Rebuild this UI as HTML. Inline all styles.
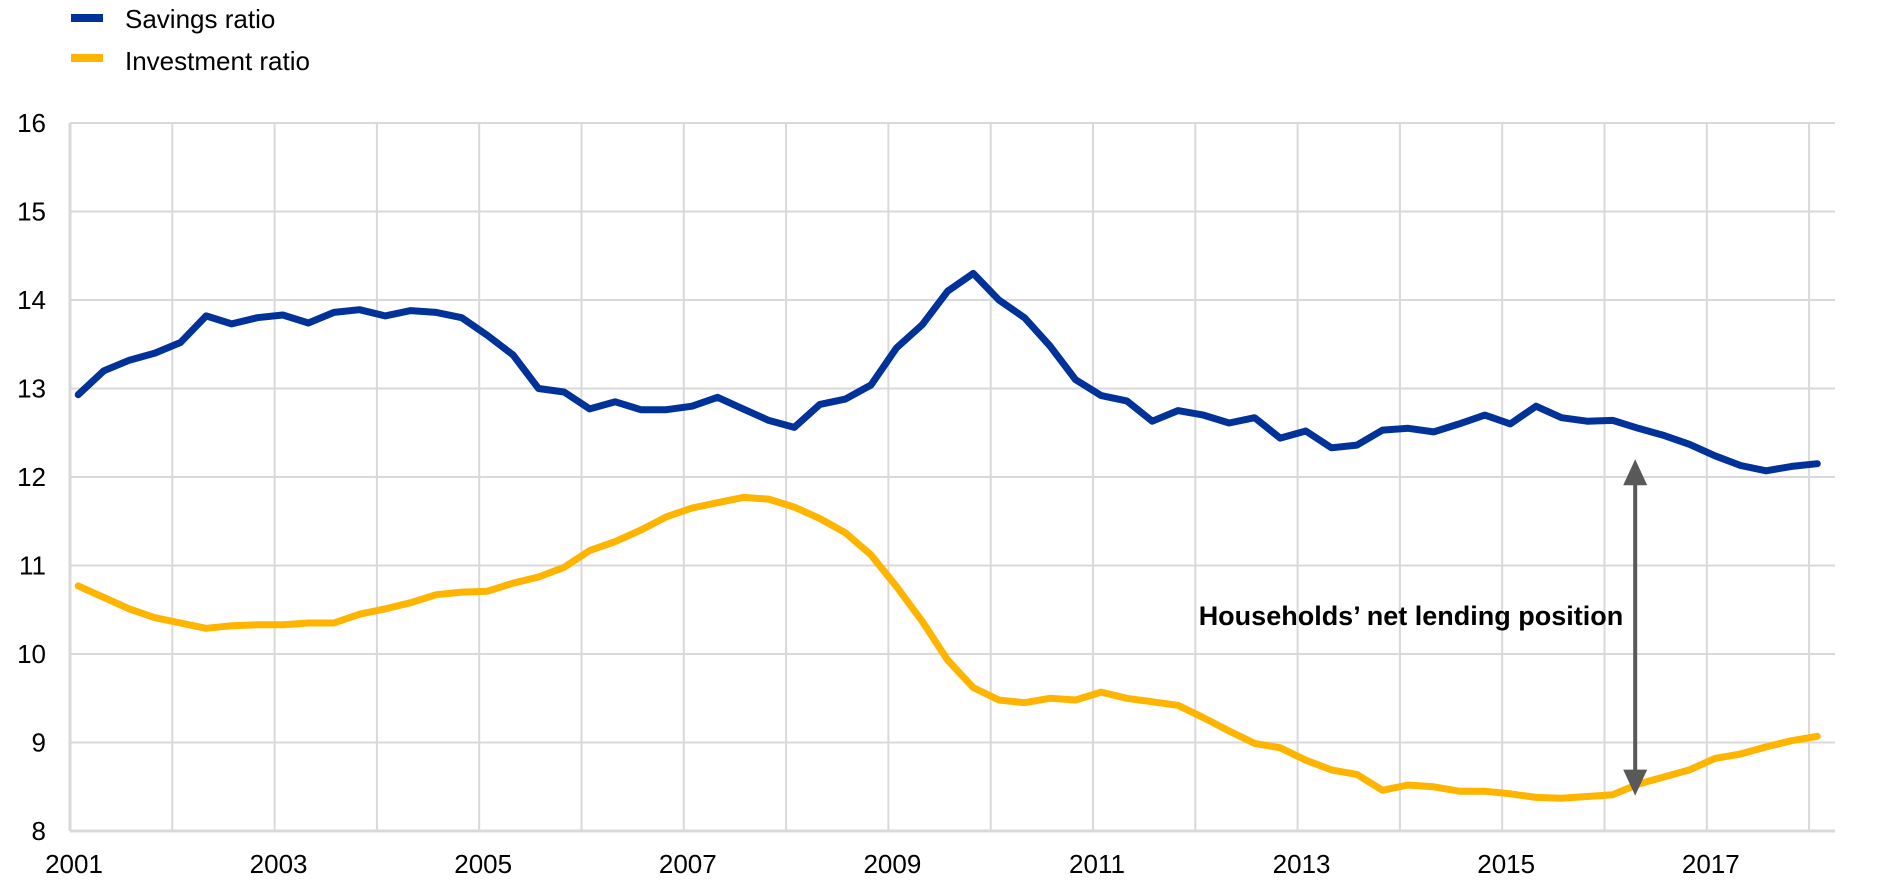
<!DOCTYPE html>
<html><head><meta charset="utf-8"><style>
html,body{margin:0;padding:0;background:#fff;}
svg{display:block;font-family:"Liberation Sans",Arial,sans-serif;}
</style></head><body>
<svg id="chart" width="1890" height="894" viewBox="0 0 1890 894">
<g id="legend">
  <g>
    <rect x="71" y="14" width="32" height="8" fill="#003299"/>
    <text x="125" y="28" font-size="26">Savings ratio</text>
  </g>
  <g>
    <rect x="71" y="54" width="32" height="8" fill="#FFB400"/>
    <text x="125" y="70" font-size="26">Investment ratio</text>
  </g>
</g>
<g id="grid"></g>
<g id="axes"></g>
<g id="series"></g>
<g id="annot"></g>
</svg>
<script>
const yTicks = [8,9,10,11,12,13,14,15,16];
const xYears = [2001,2002,2003,2004,2005,2006,2007,2008,2009,2010,2011,2012,2013,2014,2015,2016,2017,2018];
const xLabels = ["2001","2003","2005","2007","2009","2011","2013","2015","2017"];
const startYear = 2001;
const savings = [12.93,13.2,13.32,13.4,13.52,13.82,13.73,13.8,13.83,13.74,13.86,13.89,13.82,13.88,13.86,13.8,13.6,13.38,13.0,12.96,12.77,12.85,12.76,12.76,12.8,12.9,12.77,12.64,12.56,12.82,12.88,13.04,13.46,13.72,14.1,14.3,14.0,13.8,13.48,13.1,12.92,12.86,12.63,12.75,12.7,12.61,12.67,12.44,12.52,12.33,12.36,12.53,12.55,12.51,12.6,12.7,12.6,12.8,12.67,12.63,12.64,12.55,12.47,12.37,12.24,12.13,12.07,12.12,12.15];
const investment = [10.77,10.64,10.51,10.41,10.35,10.29,10.32,10.33,10.33,10.35,10.35,10.45,10.51,10.58,10.67,10.7,10.71,10.8,10.87,10.98,11.17,11.27,11.4,11.55,11.65,11.71,11.77,11.75,11.66,11.53,11.37,11.12,10.76,10.37,9.93,9.62,9.48,9.45,9.5,9.48,9.57,9.5,9.46,9.42,9.28,9.13,8.99,8.94,8.8,8.69,8.64,8.46,8.52,8.5,8.45,8.45,8.42,8.38,8.37,8.39,8.41,8.53,8.61,8.69,8.82,8.87,8.95,9.02,9.07];
const arrowFrom = 12.2, arrowTo = 8.4, arrowYear = 2016.3;

const NS="http://www.w3.org/2000/svg";
const X0=70, X1=1835, Y0=831, Y1=123, yrW=102.3;
const xs = t => X0 + (t - startYear) * yrW;
const ys = v => Y0 - (v - 8) / 8 * (Y0 - Y1);
function mk(tag, attrs, parent){const e=document.createElementNS(NS,tag);for(const k in attrs)e.setAttribute(k,attrs[k]);parent.appendChild(e);return e;}
const grid=document.getElementById('grid'), axes=document.getElementById('axes'), series=document.getElementById('series'), annot=document.getElementById('annot');
yTicks.forEach(v=>{
  if(v>8){const l=mk('line',{x1:X0,x2:X1,y1:ys(v),y2:ys(v),stroke:'#d9d9d9','stroke-width':2},grid);
  
  }
  const t=mk('text',{x:46,y:ys(v)+9,'font-size':26,'text-anchor':'end'},axes);
  t.textContent=String(v);
  
  
});
xYears.forEach(y=>{
  const l=mk('line',{x1:xs(y),x2:xs(y),y1:Y1,y2:Y0,stroke:'#d9d9d9','stroke-width':2},grid);
  
  
});
const ax=mk('line',{x1:X0,x2:X1,y1:Y0,y2:Y0,stroke:'#d9d9d9','stroke-width':3},axes);


const ayl=mk('line',{x1:X0,x2:X0,y1:Y1,y2:Y0,stroke:'#d9d9d9','stroke-width':3},axes);


xLabels.forEach(s=>{
  const t=mk('text',{x:xs(+s)+4,y:873,'font-size':26,'text-anchor':'middle'},axes);
  t.textContent=s;
  
  
});
function line(data,color,name){
  const pts=data.map((v,i)=>xs(startYear+0.08+i*0.25).toFixed(1)+','+ys(v).toFixed(1)).join(' ');
  const p=mk('polyline',{points:pts,fill:'none',stroke:color,'stroke-width':7,'stroke-linejoin':'round','stroke-linecap':'round'},series);
  
  
}
line(investment,'#FFB400','investment-ratio-line');
line(savings,'#003299','savings-ratio-line');
const ax2=xs(arrowYear), ya=ys(arrowFrom), yb=ys(arrowTo);
const al=mk('line',{x1:ax2,x2:ax2,y1:ya+22,y2:yb-22,stroke:'#595959','stroke-width':4},annot);


const h1=mk('polygon',{points:`${ax2-12},${ya+26} ${ax2+12},${ya+26} ${ax2},${ya}`,fill:'#595959'},annot);


const h2=mk('polygon',{points:`${ax2-12},${yb-26} ${ax2+12},${yb-26} ${ax2},${yb}`,fill:'#595959'},annot);


const at=mk('text',{x:ax2-12,y:625,'font-size':27,'font-weight':'bold','text-anchor':'end'},annot);
at.textContent='Households’ net lending position';


</script>
</body></html>
